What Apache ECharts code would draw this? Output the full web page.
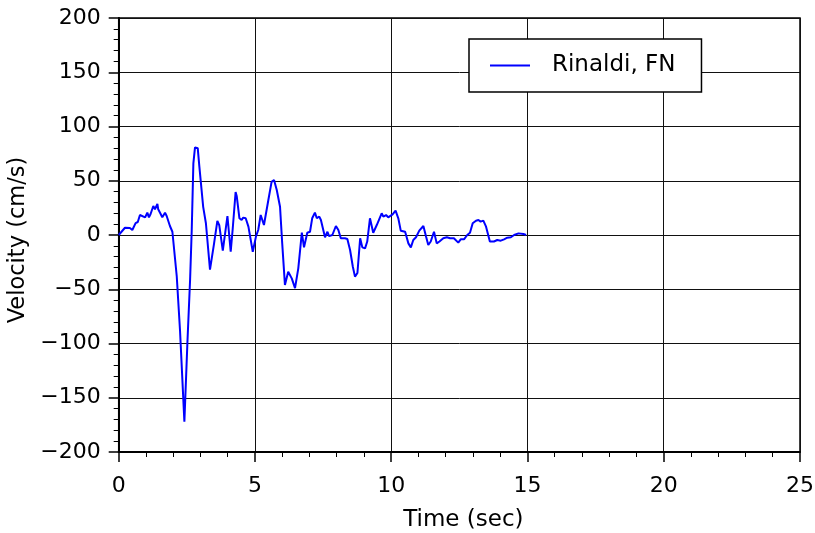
<!DOCTYPE html>
<html>
<head>
<meta charset="utf-8">
<script src="https://cdn.jsdelivr.net/npm/echarts@6/dist/echarts.min.js"></script>
<style>html,body{margin:0;padding:0;background:#fff}#c{width:815px;height:533px}</style>
</head>
<body>
<div id="c"></div>
<script>
var seriesName = 'Rinaldi, FN';
var xTitle = 'Time (sec)';
var yTitle = 'Velocity (cm/s)';
var times = [0,0.23,0.41,0.5,0.62,0.7,0.78,0.84,0.97,1.05,1.11,1.17,1.27,1.33,1.42,1.45,1.54,1.6,1.7,1.76,1.88,1.97,2.0,2.13,2.25,2.41,2.52,2.62,2.68,2.74,2.8,2.9,2.96,3.1,3.2,3.35,3.39,3.5,3.62,3.69,3.82,3.86,3.99,4.11,4.18,4.29,4.33,4.43,4.51,4.57,4.66,4.76,4.92,5.04,5.12,5.21,5.33,5.37,5.49,5.61,5.7,5.8,5.92,6.0,6.1,6.22,6.35,6.47,6.59,6.72,6.8,6.92,7.02,7.1,7.2,7.27,7.36,7.42,7.57,7.66,7.72,7.84,7.97,8.06,8.15,8.3,8.39,8.49,8.59,8.67,8.76,8.86,8.94,9.04,9.12,9.22,9.34,9.47,9.65,9.71,9.81,9.89,10.05,10.16,10.26,10.35,10.51,10.63,10.72,10.81,10.91,11.03,11.18,11.28,11.36,11.45,11.57,11.67,11.77,11.91,12.04,12.16,12.3,12.46,12.55,12.67,12.79,12.89,12.99,13.11,13.2,13.28,13.38,13.48,13.62,13.77,13.89,14.02,14.14,14.26,14.39,14.51,14.67,14.85,14.95];
var velocities = [0,6.7,6.4,4.6,11,12,18.4,16.9,16.3,20.6,16.3,19.4,26.7,23.7,28.6,23.7,19.4,16.3,20.6,17.5,8.3,3,-4.6,-38,-88,-172,-100,-41,4.6,66,80.8,80,63,26,10.8,-32,-32,-7.7,13,9,-14.5,-14,17.5,-15.4,4.6,39.6,36,15.4,13.8,16,15.4,7.7,-15.4,-1,4.6,18.4,9.2,9.2,32,49,50.7,41.5,26,-7.7,-46,-33.8,-40,-49,-30.7,2.1,-11.4,2.1,3,15.4,20.6,15.4,17,13.8,-2.1,3,-1,0,8.3,4.6,-3,-3,-3.7,-13.8,-29,-38.4,-35,-3,-11.4,-12.3,-6,15.4,2.1,9.2,20,17,18.4,16.3,19,22.4,15.4,4,3,-7.7,-11.4,-4.6,-2.1,4,8.3,-1.5,-9.2,-6,3,-7.7,-6,-3,-2.1,-3,-3,-7,-4,-4,0,2.1,10.8,13.2,13.8,12.3,13.2,7.7,-6,-6,-4.6,-5.2,-4,-2.5,-2.1,0,1.5,0.9,0];

var data = times.map(function(t, i){ return [t, velocities[i]]; });
var font = 'DejaVu Sans';
var chart = echarts.init(document.getElementById('c'));
chart.setOption({
  animation: false,
  backgroundColor: '#fff',
  grid: {left: 118.7, right: 15, top: 18, bottom: 81, containLabel: false, outerBoundsMode: 'none',
    show: true, borderColor: '#000', borderWidth: 1.5, backgroundColor: 'transparent'},
  legend: {
    left: 469, top: 39,
    backgroundColor: '#fff', borderColor: '#000', borderWidth: 1.5,
    padding: [15, 26, 15, 21],
    itemWidth: 40, itemHeight: 2,
    textStyle: {fontFamily: font, fontSize: 23, color: '#000', padding: [0, 0, 0, 17]},
    data: [{name: seriesName, icon: 'path://M0,0L40,0L40,2L0,2Z'}],
    itemStyle: {color: '#0000ff'}
  },
  xAxis: {
    type: 'value', min: 0, max: 25, interval: 5,
    name: xTitle, nameLocation: 'middle', nameGap: 57,
    nameTextStyle: {fontFamily: font, fontSize: 23, color: '#000', padding: [0, 0, 0, 8]},
    axisLine: {show: true, onZero: false, lineStyle: {color: '#000', width: 2}},
    axisTick: {show: true, length: 10, lineStyle: {color: '#000', width: 1.5}},
    minorTick: {show: true, splitNumber: 5, length: 5, lineStyle: {color: '#000', width: 1}},
    axisLabel: {fontFamily: font, fontSize: 22, color: '#000', margin: 23},
    splitLine: {show: true, lineStyle: {color: '#111', width: 1}}
  },
  yAxis: {
    type: 'value', min: -200, max: 200, interval: 50,
    name: yTitle, nameLocation: 'middle', nameGap: 72, nameRotate: 90,
    nameTextStyle: {fontFamily: font, fontSize: 22.5, color: '#000', padding: [0, 10, 0, 0]},
    axisLine: {show: true, onZero: false, lineStyle: {color: '#000', width: 2}},
    axisTick: {show: true, length: 10, lineStyle: {color: '#000', width: 1.5}},
    minorTick: {show: true, splitNumber: 5, length: 5, lineStyle: {color: '#000', width: 1}},
    axisLabel: {fontFamily: font, fontSize: 22, color: '#000', margin: 18,
      formatter: function(v){ return String(v).replace('-', '\u2212'); }},
    splitLine: {show: true, lineStyle: {color: '#111', width: 1}}
  },
  series: [{
    name: seriesName, type: 'line', data: data,
    symbol: 'none', showSymbol: false,
    lineStyle: {color: '#0000ff', width: 2},
    itemStyle: {color: '#0000ff'}
  }]
});
</script>
</body>
</html>
